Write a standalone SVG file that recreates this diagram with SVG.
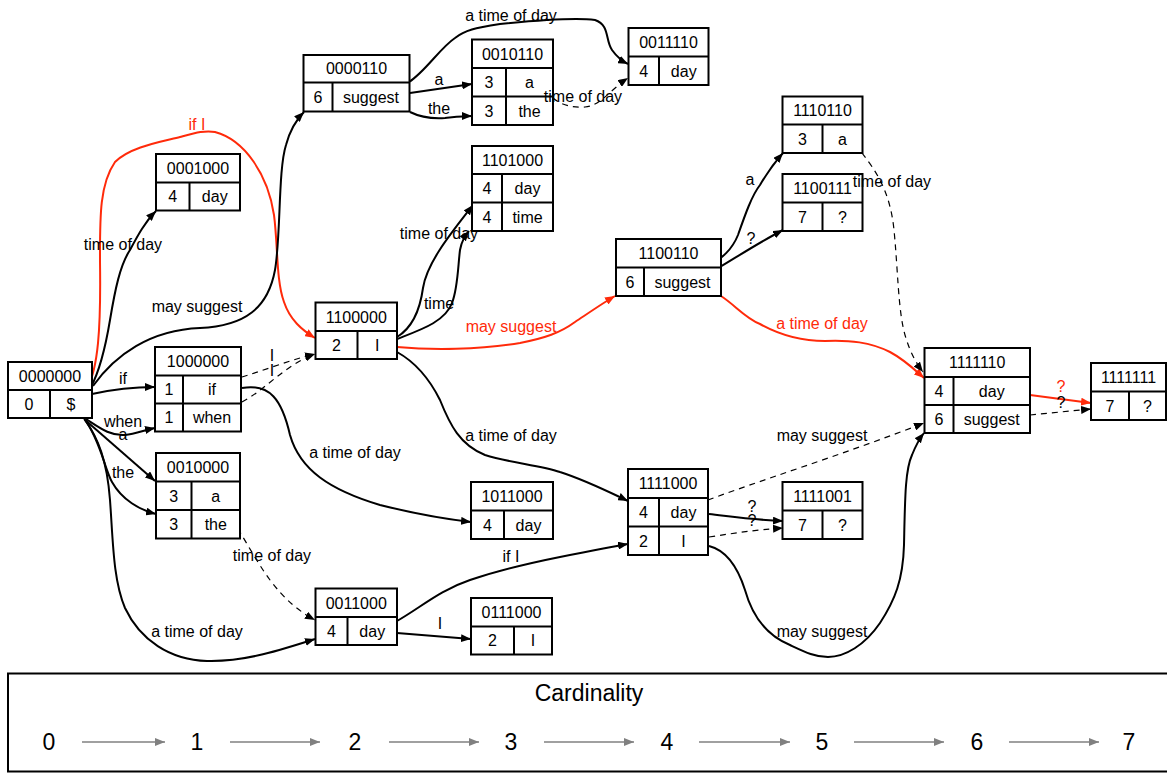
<svg xmlns="http://www.w3.org/2000/svg" width="1167" height="773" viewBox="0 0 1167 773">
<style>
text{font-family:"Liberation Sans",Arial,sans-serif;font-size:16px;fill:#000;text-anchor:middle}
.nb{fill:#fff;stroke:#000;stroke-width:2}
.nl{stroke:#000;stroke-width:2}
.e{fill:none;stroke:#000;stroke-width:2;marker-end:url(#ab)}
.d{fill:none;stroke:#000;stroke-width:1.2;stroke-dasharray:6,5;marker-end:url(#ab)}
.r{fill:none;stroke:#ff2a0a;stroke-width:2;marker-end:url(#ar)}
.rl{fill:#ff2a0a}
.lg{fill:none;stroke:#808080;stroke-width:1.5;marker-end:url(#ag)}
.big{font-size:23px}
</style>
<defs>
<marker id="ab" viewBox="0 0 10 8" refX="10" refY="4" markerWidth="10" markerHeight="8" markerUnits="userSpaceOnUse" orient="auto"><path d="M0,0 L10,4 L0,8 z" fill="#000"/></marker>
<marker id="ar" viewBox="0 0 10 8" refX="10" refY="4" markerWidth="10" markerHeight="8" markerUnits="userSpaceOnUse" orient="auto"><path d="M0,0 L10,4 L0,8 z" fill="#ff2a0a"/></marker>
<marker id="ag" viewBox="0 0 10 8" refX="10" refY="4" markerWidth="11" markerHeight="8" markerUnits="userSpaceOnUse" orient="auto"><path d="M0,0 L10,4 L0,8 z" fill="#808080"/></marker>
</defs>
<rect width="1167" height="773" fill="#fff"/>

<g id="edges">
<path class="r" d="M87,389 C98,368 101,330 100,262 C100,220 99,185 115,162 C130,147 160,142 180,137 C195,133 205,130 215,132 C245,140 268,175 274,215 C278,245 276,280 284,302 C290,320 302,330 315,338"/>
<path class="e" d="M91,387 C100,370 105,350 110,320 C115,290 120,265 130,250 C138,235 145,222 156,211"/>
<path class="e" d="M93,386 C115,355 150,330 200,328 C245,326 268,308 275,270 C281,235 278,170 286,145 C290,130 296,120 304,112"/>
<path class="e" d="M92,394 C110,390 130,387 155,387"/>
<path class="e" d="M86,419 C100,428 110,436 125,435 C135,434 145,430 155,428"/>
<path class="e" d="M84,419 L155,481"/>
<path class="e" d="M85,420 C100,440 105,470 112,482 C122,500 140,510 156,514"/>
<path class="e" d="M85,420 C98,438 107,460 110,500 C113,540 113,580 125,608 C140,640 170,660 207,661 C245,662 280,650 315,639"/>
<path class="d" d="M242,377 C265,370 290,360 315,354"/>
<path class="d" d="M242,402 C265,390 285,365 315,354"/>
<path class="e" d="M242,388 C270,383 282,400 290,435 C300,470 330,490 380,505 C420,515 445,519 471,522"/>
<path class="e" d="M409,82 C425,72 440,48 455,38 C465,30 475,28 500,24 C540,20 580,18 595,20 C610,25 605,40 612,50 C617,57 622,61 628,64"/>
<path class="e" d="M410,93 L472,84"/>
<path class="e" d="M410,112 C420,117 430,119 445,118 C455,117 463,116 472,116"/>
<path class="d" d="M553,98 C560,104 570,108 585,107 C600,106 610,90 628,78"/>
<path class="e" d="M397,337 C412,328 420,310 423,288 C427,262 452,232 473,205"/>
<path class="e" d="M397,339 C420,330 445,322 452,303 C458,288 458,265 460,250 C462,240 465,236 469,231"/>
<path class="r" d="M397,347 C430,350 480,350 520,343 C545,338 560,333 575,322 C590,312 603,303 615,296"/>
<path class="e" d="M397,352 C415,362 430,380 440,400 C450,425 460,445 485,455 C510,463 540,465 560,472 C585,480 605,490 628,501"/>
<path class="e" d="M709,266 C722,258 732,250 738,235 C745,215 752,195 760,185 C767,173 775,162 783,153"/>
<path class="e" d="M720,267 C740,255 760,242 783,230"/>
<path class="r" d="M721,296 C735,305 745,318 760,324 C780,335 800,341 825,341 C850,340 870,342 890,352 C905,360 915,370 924,378"/>
<path class="d" d="M862,153 C875,170 890,190 894,230 C898,270 898,310 905,335 C910,352 916,363 923,372"/>
<path class="d" d="M708,500 C750,484 850,452 924,423"/>
<path class="e" d="M709,514 C735,517 755,520 783,521"/>
<path class="d" d="M709,537 C735,533 755,530 783,528"/>
<path class="e" d="M709,546 C725,550 737,565 745,590 C752,615 765,635 790,645 C805,652 815,657 828,657 C845,657 865,645 880,623 C895,600 903,580 904,545 C905,500 905,470 912,455 C916,445 920,438 924,433"/>
<path class="e" d="M397,621 C420,608 440,590 470,580 C500,570 530,563 560,557 C590,551 610,547 628,544"/>
<path class="e" d="M397,633 L471,639"/>
<path class="d" d="M226,510 C240,530 255,560 270,580 C285,600 300,612 315,620"/>
<path class="r" d="M1030,395 L1091,403"/>
<path class="d" d="M1030,415 C1050,413 1070,411 1091,409"/>
</g>

<g id="n0000000"><rect class="nb" x="8" y="362" width="84" height="56"/><line class="nl" x1="8" y1="390" x2="92" y2="390"/><line class="nl" x1="50" y1="390" x2="50" y2="418"/><text x="50" y="381.5">0000000</text><text x="29" y="409.5">0</text><text x="71" y="409.5">$</text></g>
<g id="n1000000"><rect class="nb" x="155" y="347" width="86" height="84.5"/><line class="nl" x1="155" y1="375.5" x2="241" y2="375.5"/><line class="nl" x1="155" y1="403.5" x2="241" y2="403.5"/><line class="nl" x1="183" y1="375.5" x2="183" y2="431.5"/><text x="198" y="366.5">1000000</text><text x="169" y="395">1</text><text x="212" y="395">if</text><text x="169" y="423">1</text><text x="212" y="423">when</text></g>
<g id="n0010000"><rect class="nb" x="156" y="453" width="84" height="85.5"/><line class="nl" x1="156" y1="481.5" x2="240" y2="481.5"/><line class="nl" x1="156" y1="510" x2="240" y2="510"/><line class="nl" x1="191.5" y1="481.5" x2="191.5" y2="538.5"/><text x="198" y="472.5">0010000</text><text x="173.75" y="501.5">3</text><text x="215.75" y="501.5">a</text><text x="173.75" y="530">3</text><text x="215.75" y="530">the</text></g>
<g id="n0001000"><rect class="nb" x="156" y="154" width="84" height="56.5"/><line class="nl" x1="156" y1="182.5" x2="240" y2="182.5"/><line class="nl" x1="189.5" y1="182.5" x2="189.5" y2="210.5"/><text x="198" y="173.5">0001000</text><text x="172.75" y="202">4</text><text x="214.75" y="202">day</text></g>
<g id="n0000110"><rect class="nb" x="303.5" y="55" width="106" height="56.5"/><line class="nl" x1="303.5" y1="82.5" x2="409.5" y2="82.5"/><line class="nl" x1="332.5" y1="82.5" x2="332.5" y2="111.5"/><text x="356.5" y="74">0000110</text><text x="318" y="102.5">6</text><text x="371" y="102.5">suggest</text></g>
<g id="n0010110"><rect class="nb" x="472" y="39.5" width="81" height="85.5"/><line class="nl" x1="472" y1="68" x2="553" y2="68"/><line class="nl" x1="472" y1="96.5" x2="553" y2="96.5"/><line class="nl" x1="506" y1="68" x2="506" y2="125"/><text x="512.5" y="59.5">0010110</text><text x="489" y="88">3</text><text x="529.5" y="88">a</text><text x="489" y="116.5">3</text><text x="529.5" y="116.5">the</text></g>
<g id="n0011110"><rect class="nb" x="628.5" y="28" width="80" height="57"/><line class="nl" x1="628.5" y1="56.5" x2="708.5" y2="56.5"/><line class="nl" x1="659" y1="56.5" x2="659" y2="85"/><text x="668.5" y="48">0011110</text><text x="643.75" y="76.5">4</text><text x="683.75" y="76.5">day</text></g>
<g id="n1101000"><rect class="nb" x="472" y="146" width="81" height="85"/><line class="nl" x1="472" y1="174" x2="553" y2="174"/><line class="nl" x1="472" y1="202.5" x2="553" y2="202.5"/><line class="nl" x1="502" y1="174" x2="502" y2="231"/><text x="512.5" y="165.5">1101000</text><text x="487" y="194">4</text><text x="527.5" y="194">day</text><text x="487" y="222.5">4</text><text x="527.5" y="222.5">time</text></g>
<g id="n1100110"><rect class="nb" x="616" y="239" width="105" height="57"/><line class="nl" x1="616" y1="267.5" x2="721" y2="267.5"/><line class="nl" x1="644" y1="267.5" x2="644" y2="296"/><text x="668.5" y="259">1100110</text><text x="630" y="287.5">6</text><text x="682.5" y="287.5">suggest</text></g>
<g id="n1100000"><rect class="nb" x="315.5" y="302.5" width="81.5" height="56.5"/><line class="nl" x1="315.5" y1="331" x2="397" y2="331"/><line class="nl" x1="357.5" y1="331" x2="357.5" y2="359"/><text x="356.25" y="322.5">1100000</text><text x="336.5" y="350.5">2</text><text x="377.25" y="350.5">I</text></g>
<g id="n1110110"><rect class="nb" x="782.5" y="96.5" width="80" height="56.5"/><line class="nl" x1="782.5" y1="124.5" x2="862.5" y2="124.5"/><line class="nl" x1="822.5" y1="124.5" x2="822.5" y2="153"/><text x="822.5" y="116">1110110</text><text x="802.5" y="144.5">3</text><text x="842.5" y="144.5">a</text></g>
<g id="n1100111"><rect class="nb" x="782.5" y="174" width="80" height="57"/><line class="nl" x1="782.5" y1="202.5" x2="862.5" y2="202.5"/><line class="nl" x1="822.5" y1="202.5" x2="822.5" y2="231"/><text x="822.5" y="194">1100111</text><text x="802.5" y="222.5">7</text><text x="842.5" y="222.5">?</text></g>
<g id="n1111110"><rect class="nb" x="924.5" y="348" width="105.5" height="85"/><line class="nl" x1="924.5" y1="377" x2="1030" y2="377"/><line class="nl" x1="924.5" y1="405" x2="1030" y2="405"/><line class="nl" x1="953.5" y1="377" x2="953.5" y2="433"/><text x="977.25" y="368">1111110</text><text x="939" y="396.5">4</text><text x="991.75" y="396.5">day</text><text x="939" y="424.5">6</text><text x="991.75" y="424.5">suggest</text></g>
<g id="n1111111"><rect class="nb" x="1091" y="363" width="75" height="57"/><line class="nl" x1="1091" y1="391.5" x2="1166" y2="391.5"/><line class="nl" x1="1129" y1="391.5" x2="1129" y2="420"/><text x="1128.5" y="383">1111111</text><text x="1110" y="411.5">7</text><text x="1147.5" y="411.5">?</text></g>
<g id="n1111000"><rect class="nb" x="628" y="469" width="80" height="86"/><line class="nl" x1="628" y1="498" x2="708" y2="498"/><line class="nl" x1="628" y1="526.5" x2="708" y2="526.5"/><line class="nl" x1="659" y1="498" x2="659" y2="555"/><text x="668" y="489">1111000</text><text x="643.5" y="518">4</text><text x="683.5" y="518">day</text><text x="643.5" y="546.5">2</text><text x="683.5" y="546.5">I</text></g>
<g id="n1111001"><rect class="nb" x="782.5" y="482" width="80" height="57"/><line class="nl" x1="782.5" y1="510.5" x2="862.5" y2="510.5"/><line class="nl" x1="822.5" y1="510.5" x2="822.5" y2="539"/><text x="822.5" y="502">1111001</text><text x="802.5" y="530.5">7</text><text x="842.5" y="530.5">?</text></g>
<g id="n1011000"><rect class="nb" x="471" y="482" width="82" height="57"/><line class="nl" x1="471" y1="510.5" x2="553" y2="510.5"/><line class="nl" x1="504" y1="510.5" x2="504" y2="539"/><text x="512" y="502">1011000</text><text x="487.5" y="530.5">4</text><text x="528.5" y="530.5">day</text></g>
<g id="n0111000"><rect class="nb" x="471" y="598" width="81" height="56.5"/><line class="nl" x1="471" y1="626.5" x2="552" y2="626.5"/><line class="nl" x1="514" y1="626.5" x2="514" y2="654.5"/><text x="511.5" y="618">0111000</text><text x="492.5" y="646">2</text><text x="533" y="646">I</text></g>
<g id="n0011000"><rect class="nb" x="315.5" y="588.5" width="81.5" height="56.5"/><line class="nl" x1="315.5" y1="617" x2="397" y2="617"/><line class="nl" x1="347.5" y1="617" x2="347.5" y2="645"/><text x="356.25" y="608.5">0011000</text><text x="331.5" y="636.5">4</text><text x="372.25" y="636.5">day</text></g>

<g id="edge-labels">
<text class="rl" x="197" y="130">if I</text>
<text x="123" y="250">time of day</text>
<text x="197" y="312">may suggest</text>
<text x="123" y="384">if</text>
<text x="123" y="427">when</text>
<text x="123" y="440">a</text>
<text x="123" y="478">the</text>
<text x="197" y="637">a time of day</text>
<text x="272" y="361">I</text>
<text x="272" y="376">I</text>
<text x="355" y="458">a time of day</text>
<text x="511" y="21">a time of day</text>
<text x="439" y="85">a</text>
<text x="439" y="114">the</text>
<text x="583" y="102">time of day</text>
<text x="439" y="239">time of day</text>
<text x="439" y="309">time</text>
<text class="rl" x="511" y="332">may suggest</text>
<text x="511" y="441">a time of day</text>
<text x="750" y="185">a</text>
<text x="751" y="244">?</text>
<text class="rl" x="822" y="329">a time of day</text>
<text x="892" y="187">time of day</text>
<text x="822" y="441">may suggest</text>
<text x="752" y="512">?</text>
<text x="752" y="526">?</text>
<text x="822" y="637">may suggest</text>
<text x="511" y="562">if I</text>
<text x="440" y="629">I</text>
<text x="272" y="561">time of day</text>
<text class="rl" x="1061" y="392">?</text>
<text x="1061" y="408">?</text>
</g>

<g id="legend">
<rect x="8" y="673.5" width="1170" height="98" fill="#fff" stroke="#000" stroke-width="2"/>
<text class="big" x="589" y="701">Cardinality</text>
<text class="big" x="49" y="750">0</text>
<text class="big" x="197" y="750">1</text>
<text class="big" x="355" y="750">2</text>
<text class="big" x="511" y="750">3</text>
<text class="big" x="667" y="750">4</text>
<text class="big" x="822" y="750">5</text>
<text class="big" x="977" y="750">6</text>
<text class="big" x="1129" y="750">7</text>
<path class="lg" d="M82,742 L165,742"/>
<path class="lg" d="M230,742 L320,742"/>
<path class="lg" d="M389,742 L479,742"/>
<path class="lg" d="M544,742 L634,742"/>
<path class="lg" d="M699,742 L790,742"/>
<path class="lg" d="M854,742 L944,742"/>
<path class="lg" d="M1009,742 L1099,742"/>
</g>
</svg>
